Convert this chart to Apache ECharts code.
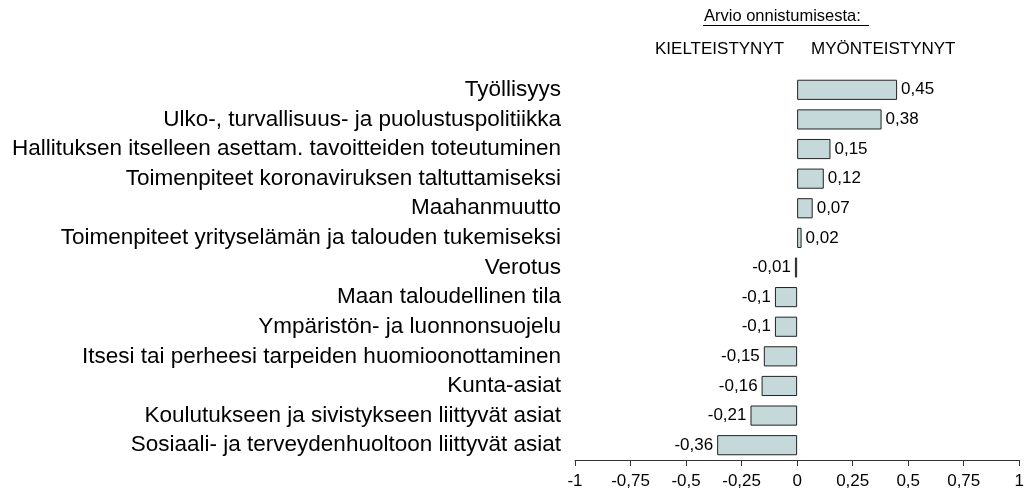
<!DOCTYPE html>
<html>
<head>
<meta charset="utf-8">
<script src="https://cdn.jsdelivr.net/npm/echarts@6/dist/echarts.min.js"></script>
<style>
    html, body { margin: 0; padding: 0; background: #fff; }
    #chart { width: 1027px; height: 490px; }
</style>
</head>
<body>
<div id="chart"></div>
<script>
    // aiheet ylhäältä alas
    const categories = [
        'Työllisyys',
        'Ulko-, turvallisuus- ja puolustuspolitiikka',
        'Hallituksen itselleen asettam. tavoitteiden toteutuminen',
        'Toimenpiteet koronaviruksen taltuttamiseksi',
        'Maahanmuutto',
        'Toimenpiteet yrityselämän ja talouden tukemiseksi',
        'Verotus',
        'Maan taloudellinen tila',
        'Ympäristön- ja luonnonsuojelu',
        'Itsesi tai perheesi tarpeiden huomioonottaminen',
        'Kunta-asiat',
        'Koulutukseen ja sivistykseen liittyvät asiat',
        'Sosiaali- ja terveydenhuoltoon liittyvät asiat'
    ]
    const values = [0.45, 0.38, 0.15, 0.12, 0.07, 0.02, -0.01, -0.1, -0.1, -0.15, -0.16, -0.21, -0.36]

    const fmt = v => String(v).replace('.', ',')
    const font = 'Liberation Sans, Arial'

    const chart = echarts.init(document.getElementById('chart'))

    const option = {
        animation: false,
        grid: { left: 575, right: 3, top: 75, bottom: 30 },
        graphic: [
            {
                type: 'text', x: 704, y: 16,
                style: { text: 'Arvio onnistumisesta:', fontFamily: font, fontSize: 16.5, fill: '#000', verticalAlign: 'middle' }
            },
            {
                type: 'line', shape: { x1: 703, y1: 25.5, x2: 869, y2: 25.5 },
                style: { stroke: '#000', lineWidth: 1 }
            },
            {
                type: 'text', x: 655, y: 49,
                style: { text: 'KIELTEISTYNYT', fontFamily: font, fontSize: 17, fill: '#000', verticalAlign: 'middle' }
            },
            {
                type: 'text', x: 811, y: 49,
                style: { text: 'MYÖNTEISTYNYT', fontFamily: font, fontSize: 17, fill: '#000', verticalAlign: 'middle' }
            }
        ],
        xAxis: {
            type: 'value',
            min: -1, max: 1, interval: 0.25,
            position: 'bottom',
            splitLine: { show: false },
            axisLine: { show: true, lineStyle: { color: '#333', width: 1 } },
            axisTick: { show: true, length: 6, lineStyle: { color: '#333' } },
            axisLabel: {
                color: '#000', fontSize: 17, fontFamily: font, margin: 13,
                formatter: v => fmt(v)
            }
        },
        yAxis: {
            type: 'category',
            data: categories,
            inverse: true,
            axisLine: { show: false },
            axisTick: { show: false },
            axisLabel: {
                interval: 0,
                color: '#000', fontSize: 22.5, fontFamily: font, margin: 14
            }
        },
        series: [{
            type: 'bar',
            data: values.map(v => ({
                value: v,
                // negatiiviset arvot: nimiö vasemmalle
                label: { position: v < 0 ? 'left' : 'right' }
            })),
            barCategoryGap: '32%',
            itemStyle: { color: '#c5d9da', borderColor: '#222', borderWidth: 1 },
            label: {
                show: true,
                color: '#000', fontSize: 17, fontFamily: font,
                distance: 4,
                formatter: p => fmt(p.value)
            }
        }]
    }

    chart.setOption(option)
</script>
</body>
</html>
